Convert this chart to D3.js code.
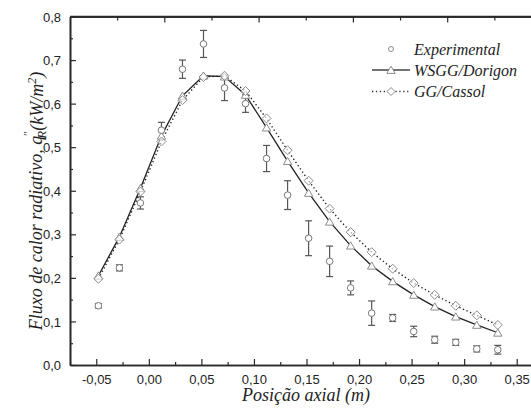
<!DOCTYPE html>
<html>
<head>
<meta charset="utf-8">
<script src="https://cdn.jsdelivr.net/npm/d3@7/dist/d3.min.js"></script>
</head>
<body style="margin:0">
<svg id="chart" width="531" height="419" style="display:block;background:#fff"></svg>
<script>
// Axial positions (m) where flux was measured / computed
const positions = [-0.048, -0.028, -0.008, 0.012, 0.032, 0.052, 0.072, 0.092, 0.112, 0.132,
                   0.152, 0.172, 0.192, 0.212, 0.232, 0.252, 0.272, 0.292, 0.312, 0.332];
// Experimental radiative heat flux (kW/m2) and its uncertainty
const expValues = [0.136, 0.223, 0.372, 0.539, 0.679, 0.737, 0.636, 0.600, 0.474, 0.390,
                   0.291, 0.238, 0.177, 0.119, 0.108, 0.077, 0.058, 0.052, 0.037, 0.035];
const expErrors = [0.005, 0.007, 0.014, 0.018, 0.021, 0.031, 0.029, 0.020, 0.030, 0.033,
                   0.040, 0.035, 0.016, 0.028, 0.008, 0.012, 0.008, 0.007, 0.007, 0.010];
// WSGG model (Dorigon)
const wsggValues = [0.205, 0.294, 0.406, 0.526, 0.618, 0.664, 0.662, 0.620, 0.545, 0.468,
                    0.395, 0.329, 0.274, 0.228, 0.192, 0.161, 0.134, 0.111, 0.092, 0.074];
// Gray gas model (Cassol)
const ggValues = [0.198, 0.288, 0.398, 0.513, 0.608, 0.661, 0.664, 0.629, 0.566, 0.493,
                  0.423, 0.359, 0.305, 0.259, 0.221, 0.188, 0.161, 0.136, 0.114, 0.092];

const xTicks = [-0.05, 0.00, 0.05, 0.10, 0.15, 0.20, 0.25, 0.30, 0.35];
const yTicks = [0.0, 0.1, 0.2, 0.3, 0.4, 0.5, 0.6, 0.7, 0.8];
const legendLabels = ["Experimental", "WSGG/Dorigon", "GG/Cassol"];

const SANS = "\"Liberation Sans\"";
const SERIF = "\"Liberation Serif\"";

// resolve the faces before any text is laid out
(function warmFonts() {
  const ctx = document.createElement("canvas").getContext("2d");
  ["italic 18px", "normal 18px", "italic 16px"].forEach(p => {
    ctx.font = `${p} ${SERIF}, monospace`; ctx.measureText("Posição axial Experimental 0");
  });
  ctx.font = `normal 13px ${SANS}, monospace`; ctx.measureText("0,05");
})();

const svg = d3.select("#chart");
const plotLeft = 70, plotRight = 533, plotTop = 16.5, plotBottom = 365;

const x = d3.scaleLinear().domain([-0.075, 0.3655]).range([plotLeft, plotRight]);
const y = d3.scaleLinear().domain([0, 0.8]).range([plotBottom, plotTop]);

const loc = d3.formatLocale({decimal: ",", thousands: ".", grouping: [3], currency: ["", ""], minus: "-"});
const fx = loc.format(".2f"), fy = loc.format(".1f");

const axisColor = "#2a2a2a";
const markerColor = "#8c8c8c";

// ---- axes ----
const gx = svg.append("g").attr("transform", `translate(0,${plotBottom})`)
  .call(d3.axisBottom(x).tickValues(xTicks).tickFormat(fx).tickSizeInner(-6).tickSizeOuter(0).tickPadding(12));
const gxMinor = svg.append("g").attr("transform", `translate(0,${plotBottom})`)
  .call(d3.axisBottom(x).tickValues(xTicks.map(v => v - 0.025).concat([0.375])).tickFormat("").tickSizeInner(-3).tickSizeOuter(0));

const gy = svg.append("g").attr("transform", `translate(${plotLeft},0)`)
  .call(d3.axisLeft(y).tickValues(yTicks).tickFormat(fy).tickSizeInner(-6).tickSizeOuter(0).tickPadding(9));
const gyMinor = svg.append("g").attr("transform", `translate(${plotLeft},0)`)
  .call(d3.axisLeft(y).tickValues(yTicks.slice(0, -1).map(v => v + 0.05)).tickFormat("").tickSizeInner(-3).tickSizeOuter(0));

// top axis carries its own, unlabeled tick spacing
const xTop = d3.scaleLinear().domain([0, 4.9]).range([plotLeft, plotLeft + 4.9 * 94.3]);
const gt = svg.append("g").attr("transform", `translate(0,${plotTop})`)
  .call(d3.axisTop(xTop).tickValues([1, 2, 3, 4]).tickFormat("").tickSizeInner(-6).tickSizeOuter(0));
const gtMinor = svg.append("g").attr("transform", `translate(0,${plotTop})`)
  .call(d3.axisTop(xTop).tickValues([0.5, 1.5, 2.5, 3.5, 4.5]).tickFormat("").tickSizeInner(-4).tickSizeOuter(0));
svg.append("line").attr("x1", plotLeft).attr("x2", plotRight).attr("y1", plotTop).attr("y2", plotTop)
  .attr("stroke", axisColor).attr("stroke-width", 1.6);

[gx, gxMinor, gy, gyMinor, gt, gtMinor].forEach(g => {
  g.attr("font-family", SANS).attr("font-size", 13);
  g.selectAll("path.domain").attr("stroke", axisColor).attr("stroke-width", 1.6);
  g.selectAll(".tick line").attr("stroke", axisColor).attr("stroke-width", 1.2);
  g.selectAll(".tick text").attr("fill", "#222");
});
gx.selectAll(".tick text").attr("dy", "0.55em");
gy.selectAll(".tick text").attr("dy", "0.35em");

// ---- error bars & experimental points ----
const expData = positions.map((p, i) => ({x: p, v: expValues[i], e: expErrors[i]}));
const eb = svg.append("g").attr("stroke", "#555").attr("stroke-width", 1.2).attr("fill", "none");
expData.forEach(d => {
  const cx = x(d.x), y0 = y(d.v - d.e), y1 = y(d.v + d.e);
  eb.append("line").attr("x1", cx).attr("x2", cx).attr("y1", y0).attr("y2", y1);
  eb.append("line").attr("x1", cx - 3.5).attr("x2", cx + 3.5).attr("y1", y0).attr("y2", y0);
  eb.append("line").attr("x1", cx - 3.5).attr("x2", cx + 3.5).attr("y1", y1).attr("y2", y1);
});

// ---- model curves ----
const line = d3.line().x(d => x(d.x)).y(d => y(d.v));
const wsggData = positions.map((p, i) => ({x: p, v: wsggValues[i]}));
const ggData = positions.map((p, i) => ({x: p, v: ggValues[i]}));

svg.append("path").datum(ggData).attr("d", line)
  .attr("fill", "none").attr("stroke", "#222").attr("stroke-width", 1.4).attr("stroke-dasharray", "1.3,2.6");
svg.append("path").datum(wsggData).attr("d", line)
  .attr("fill", "none").attr("stroke", "#222").attr("stroke-width", 1.3);

const triangle = d3.symbol().type(d3.symbolTriangle).size(30);
const diamond = s => `M0,${-s}L${s},0L0,${s}L${-s},0Z`;

svg.append("g").selectAll("path").data(wsggData).join("path")
  .attr("d", triangle).attr("transform", d => `translate(${x(d.x)},${y(d.v) + 1})`)
  .attr("fill", "#fff").attr("stroke", markerColor).attr("stroke-width", 1);
svg.append("g").selectAll("path").data(ggData).join("path")
  .attr("d", diamond(4.5)).attr("transform", d => `translate(${x(d.x)},${y(d.v)})`)
  .attr("fill", "#fff").attr("fill-opacity", 0.6).attr("stroke", markerColor).attr("stroke-width", 1);

svg.append("g").selectAll("circle").data(expData).join("circle")
  .attr("cx", d => x(d.x)).attr("cy", d => y(d.v)).attr("r", 3.3)
  .attr("fill", "#fff").attr("stroke", "#777").attr("stroke-width", 1);

// ---- axis titles ----
svg.append("text").attr("x", 306).attr("y", 401).attr("text-anchor", "middle")
  .attr("font-family", SERIF).attr("font-style", "italic").attr("font-size", 18).attr("fill", "#222")
  .text("Posição axial (m)");

const yt = svg.append("text").attr("transform", "translate(42,201) rotate(-90)").attr("text-anchor", "middle")
  .attr("font-family", SERIF).attr("font-style", "italic").attr("font-size", 18).attr("fill", "#222");
yt.append("tspan").text("Fluxo de calor radiativo, q");
yt.append("tspan").attr("dx", "-1").attr("dy", "-10").attr("font-size", 12).text("\u2033");
yt.append("tspan").attr("dx", "-7").attr("dy", "14").attr("font-size", 13).text("R");
yt.append("tspan").attr("dy", "-3").text("(kW/m");
yt.append("tspan").attr("dy", "-7").attr("font-size", 12).text("2");
yt.append("tspan").attr("dy", "7").text(")");

// ---- legend ----
const lg = svg.append("g");
const rows = [49, 70, 91.5];
lg.append("circle").attr("cx", 391).attr("cy", rows[0]).attr("r", 2.5).attr("fill", "#fff").attr("stroke", markerColor);
lg.append("line").attr("x1", 372).attr("x2", 410).attr("y1", rows[1]).attr("y2", rows[1]).attr("stroke", "#444").attr("stroke-width", 1.3);
lg.append("path").attr("d", triangle).attr("transform", `translate(391,${rows[1] + 1})`).attr("fill", "#fff").attr("stroke", markerColor);
lg.append("line").attr("x1", 372).attr("x2", 410).attr("y1", rows[2]).attr("y2", rows[2]).attr("stroke", "#333").attr("stroke-width", 1.3).attr("stroke-dasharray", "1.3,2.6");
lg.append("path").attr("d", diamond(4)).attr("transform", `translate(391,${rows[2]})`).attr("fill", "#fff").attr("stroke", markerColor);
lg.selectAll("text").data(legendLabels).join("text")
  .attr("x", 414).attr("y", (d, i) => rows[i] + 5.5)
  .attr("font-family", SERIF).attr("font-style", "italic").attr("font-size", 16).attr("fill", "#222")
  .text(d => d);
</script>
</body>
</html>
